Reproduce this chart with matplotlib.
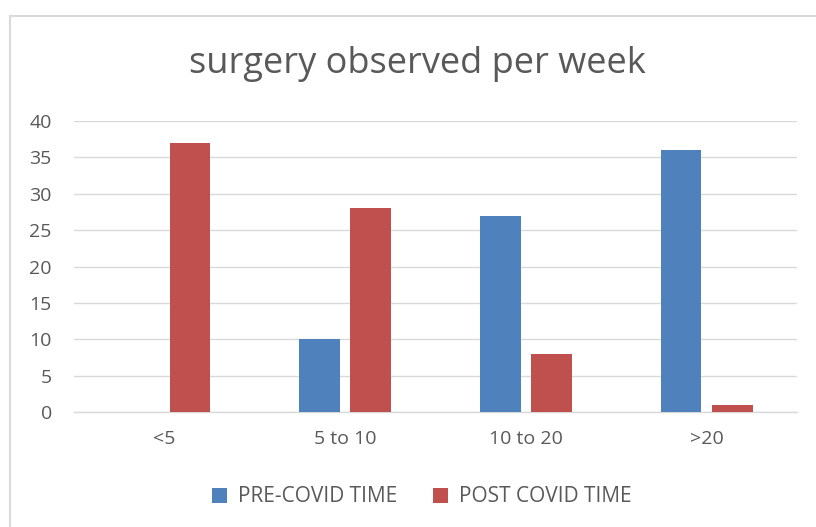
import numpy as np
import matplotlib.pyplot as plt
import matplotlib.patches as mpatches

plt.rcParams.update({
    "font.family": ["Open Sans", "DejaVu Sans"],
})

categories = ["<5", "5 to 10", "10 to 20", ">20"]
pre_covid = [0, 10, 27, 36]
post_covid = [37, 28, 8, 1]
series_names = ["PRE-COVID TIME", "POST COVID TIME"]

BLUE = "#4f81bd"
RED = "#c0504d"
TXT = "#595959"
GRID = "#d9d9d9"

fig = plt.figure(figsize=(8.16, 5.27), dpi=100)
ax = fig.add_axes([74 / 816, 1 - 412 / 527, (797 - 74) / 816, (412 - 121) / 527])

# outer chart border (Excel style)
fig.patches.append(mpatches.Rectangle((9.5 / 816, -0.05), 1.2, 1 - 15.5 / 527 + 0.05,
                                      transform=fig.transFigure, fill=False,
                                      edgecolor=GRID, linewidth=1.5))

x = np.arange(len(categories))
w = 0.225
off = 0.142
ax.bar(x - off, pre_covid, width=w, color=BLUE, label=series_names[0], zorder=3)
ax.bar(x + off, post_covid, width=w, color=RED, label=series_names[1], zorder=3)

ax.set_xlim(-0.5, 3.5)
ax.set_ylim(0, 40)
ax.set_yticks(range(0, 41, 5))
ax.set_xticks(x)
ax.set_xticklabels(categories)
ax.grid(axis="y", color=GRID, linewidth=1.0, zorder=0)
for s in ["top", "right", "left"]:
    ax.spines[s].set_visible(False)
ax.spines["bottom"].set_color(GRID)
ax.spines["bottom"].set_linewidth(1.0)
ax.tick_params(axis="both", length=0, labelsize=14, colors=TXT)
ax.tick_params(axis="y", pad=16)
ax.tick_params(axis="x", pad=13)

fig.text(417 / 816, 1 - 64 / 527, "surgery observed per week", ha="center", va="center",
         fontsize=26, color=TXT)

fig.legend(loc="center", bbox_to_anchor=(422 / 816, 1 - 497 / 527), ncol=2,
           frameon=False, fontsize=15, handlelength=0.7, handleheight=0.7,
           handletextpad=0.55, columnspacing=1.7, labelcolor=TXT)

fig.savefig("out.png", dpi=100)
